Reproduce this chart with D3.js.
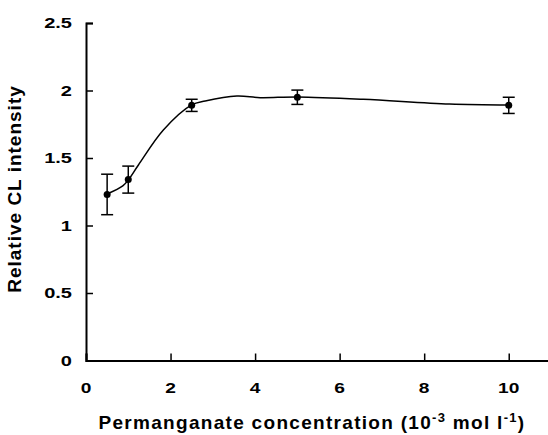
<!DOCTYPE html>
<html><head><meta charset="utf-8">
<script src="https://cdn.jsdelivr.net/npm/d3@7"></script>
<style>body{margin:0;background:#fff}svg{display:block}text{font-family:"Liberation Sans",Arial,sans-serif;font-weight:bold;fill:#000}</style>
</head><body>
<svg id="c" width="548" height="435"></svg>
<script>
const conc = [0.5, 1, 2.5, 5, 10];
const intensity = [1.23, 1.34, 1.89, 1.95, 1.89];
const errors = [0.15, 0.10, 0.045, 0.053, 0.06];
const curveX = [0.5, 0.87, 1, 1.24, 1.83, 2.5, 2.82, 3.57, 4.12, 5, 6.56, 8.6, 10];
const curveY = [1.233, 1.293, 1.337, 1.448, 1.707, 1.893, 1.922, 1.959, 1.947, 1.952, 1.935, 1.9, 1.893];
const xTicks = [0, 2, 4, 6, 8, 10];
const yTicks = [0, 0.5, 1, 1.5, 2, 2.5];

const svg = d3.select("#c");
const x = d3.scaleLinear().domain([0, 11]).range([86, 551]);
const y = d3.scaleLinear().domain([0, 2.5]).range([360.5, 23]);

const xa = svg.append("g").attr("transform", `translate(0,${y(0)})`)
  .call(d3.axisTop(x).tickValues(xTicks).tickSize(7).tickFormat(""));
const ya = svg.append("g").attr("transform", `translate(${x(0)},0)`)
  .call(d3.axisRight(y).tickValues(yTicks).tickSize(7).tickFormat(""));
[xa, ya].forEach(a => {
  a.select(".domain").attr("stroke-width", 2);
  a.selectAll(".tick line").attr("stroke-width", 1.5);
});
function stretch(sel, k) {
  sel.each(function() {
    const w = this.getComputedTextLength();
    d3.select(this).attr("textLength", w * k).attr("lengthAdjust", "spacingAndGlyphs");
  });
}
svg.selectAll(".xlab").data(xTicks).join("text")
  .attr("x", d => x(d)).attr("y", 393).attr("text-anchor", "middle")
  .attr("font-size", 14.5).text(d => d).call(stretch, 1.32);
svg.selectAll(".ylab").data(yTicks).join("text")
  .attr("x", 72).attr("y", d => y(d) + 5).attr("text-anchor", "end")
  .attr("font-size", 14.5).text(d => d).call(stretch, 1.38);

const line = d3.line().x(d => x(d[0])).y(d => y(d[1])).curve(d3.curveCatmullRom.alpha(0.5));
svg.append("path").datum(curveX.map((v, i) => [v, curveY[i]]))
  .attr("d", line).attr("fill", "none").attr("stroke", "#000").attr("stroke-width", 1.5);

const pts = conc.map((c, i) => ({c, v: intensity[i], e: errors[i]}));
const eb = svg.append("g").attr("stroke", "#000").attr("stroke-width", 1.5);
pts.forEach(p => {
  eb.append("line").attr("x1", x(p.c)).attr("x2", x(p.c)).attr("y1", y(p.v - p.e)).attr("y2", y(p.v + p.e));
  [p.v - p.e, p.v + p.e].forEach(v => eb.append("line").attr("x1", x(p.c) - 6).attr("x2", x(p.c) + 6).attr("y1", y(v)).attr("y2", y(v)));
});
svg.selectAll(".pt").data(pts).join("circle")
  .attr("cx", d => x(d.c)).attr("cy", d => y(d.v)).attr("r", 3.5).attr("fill", "#000");

svg.append("text").attr("transform", "translate(21,189) rotate(-90)")
  .attr("text-anchor", "middle").attr("font-size", 19).attr("letter-spacing", 1).text("Relative CL intensity");
const t = svg.append("text").attr("x", 312).attr("y", 429).attr("text-anchor", "middle")
  .attr("font-size", 19).attr("letter-spacing", 1.3);
t.append("tspan").text("Permanganate concentration (10");
t.append("tspan").attr("dy", -7).attr("font-size", 13).text("-3");
t.append("tspan").attr("dy", 7).text(" mol l");
t.append("tspan").attr("dy", -7).attr("font-size", 13).text("-1");
t.append("tspan").attr("dy", 7).text(")");
</script>
</body></html>
